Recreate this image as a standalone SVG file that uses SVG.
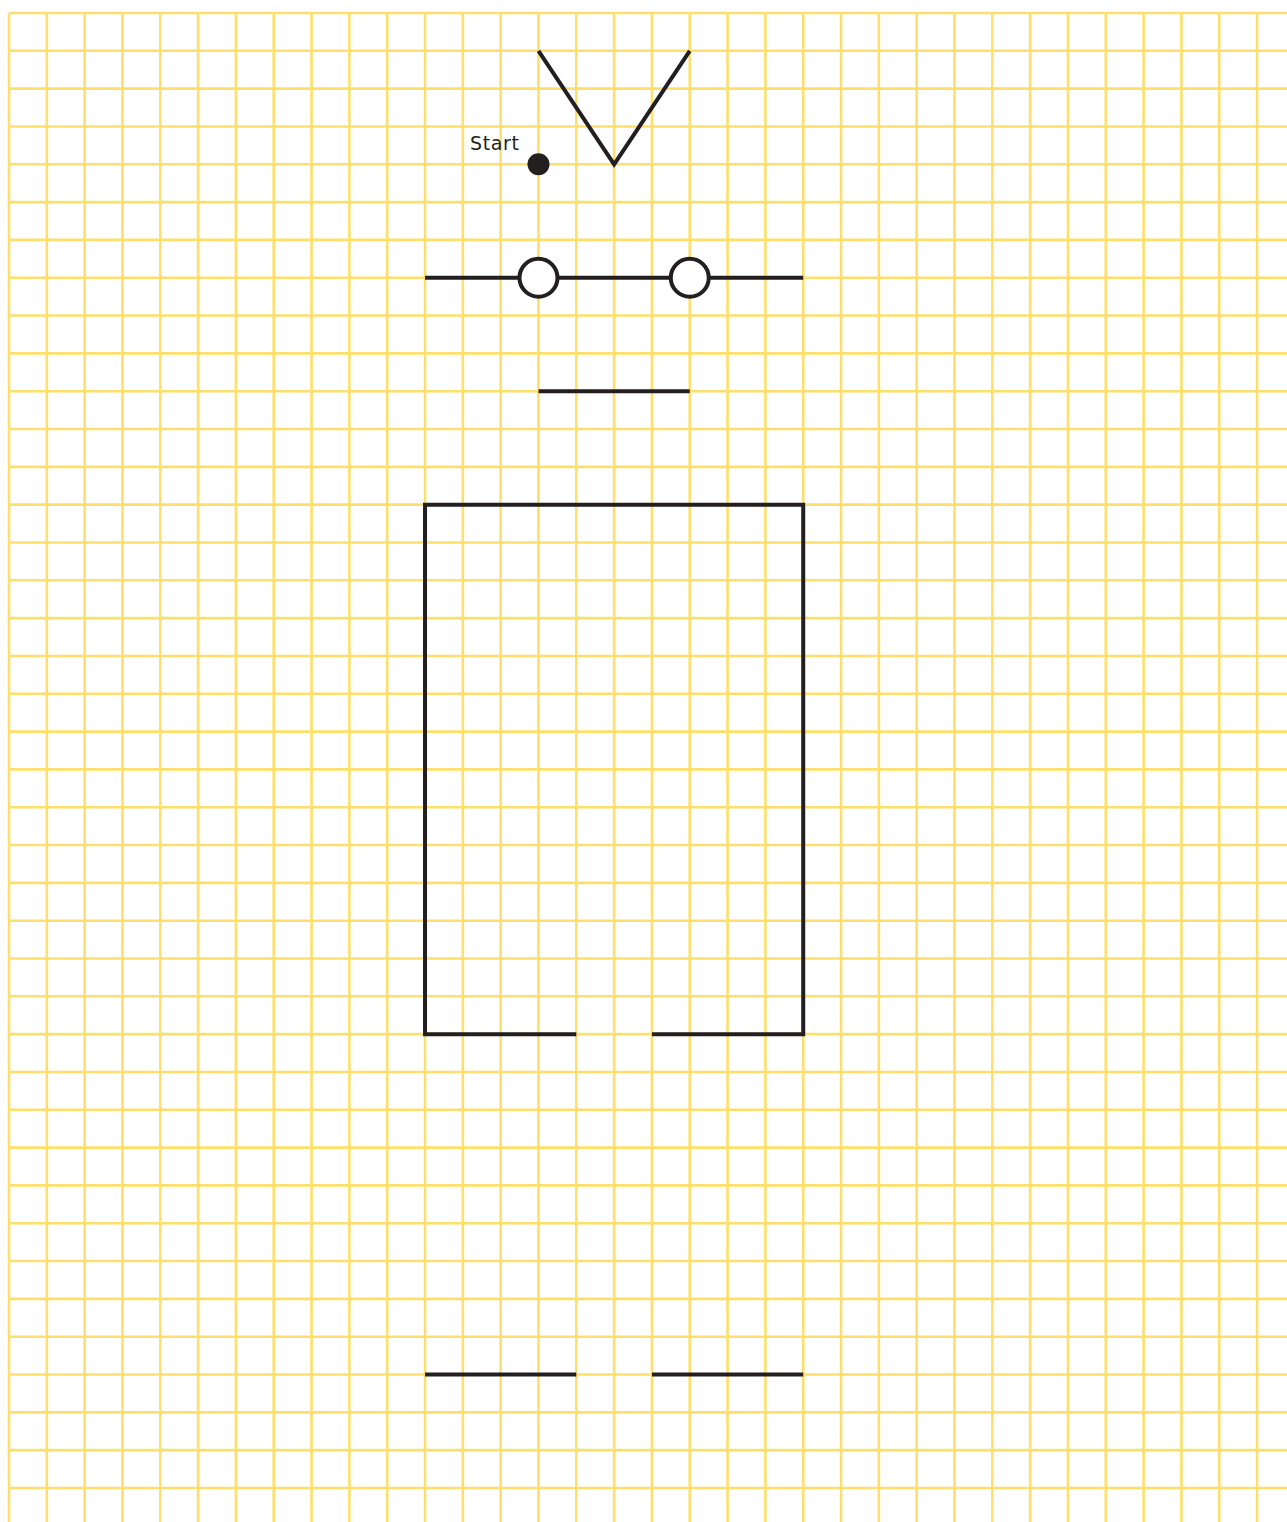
<svg xmlns="http://www.w3.org/2000/svg" width="1287" height="1522" viewBox="0 0 1287 1522">
<defs>
<style>
.g{stroke:#FFDF6B;stroke-width:2.6;fill:none}
.s{stroke:#231F20;stroke-width:4;fill:none;stroke-linecap:butt}
.t{font-family:"DejaVu Sans","Liberation Sans",sans-serif;font-size:19px;fill:#231F20}
</style>
<pattern id="gv" x="9" y="0" width="37.82" height="1522" patternUnits="userSpaceOnUse">
<line x1="0" y1="0" x2="0" y2="1522" class="g"/>
</pattern>
</defs>
<rect width="1287" height="1522" fill="#fff"/>
<g id="grid">
<path class="g" d="M9,13V1522M46.82,13V1522M84.64,13V1522M122.46,13V1522M160.28,13V1522M198.1,13V1522M235.92,13V1522M273.74,13V1522M311.56,13V1522M349.38,13V1522M387.2,13V1522M425.02,13V1522M462.84,13V1522M500.66,13V1522M538.48,13V1522M576.3,13V1522M614.12,13V1522M651.94,13V1522M689.76,13V1522M727.58,13V1522M765.4,13V1522M803.22,13V1522M841.04,13V1522M878.86,13V1522M916.68,13V1522M954.5,13V1522M992.32,13V1522M1030.14,13V1522M1067.96,13V1522M1105.78,13V1522M1143.6,13V1522M1181.42,13V1522M1219.24,13V1522M1257.06,13V1522"/>
<path class="g" d="M9,13H1287M9,50.82H1287M9,88.64H1287M9,126.46H1287M9,164.28H1287M9,202.1H1287M9,239.92H1287M9,277.74H1287M9,315.56H1287M9,353.38H1287M9,391.2H1287M9,429.02H1287M9,466.84H1287M9,504.66H1287M9,542.48H1287M9,580.3H1287M9,618.12H1287M9,655.94H1287M9,693.76H1287M9,731.58H1287M9,769.4H1287M9,807.22H1287M9,845.04H1287M9,882.86H1287M9,920.68H1287M9,958.5H1287M9,996.32H1287M9,1034.14H1287M9,1071.96H1287M9,1109.78H1287M9,1147.6H1287M9,1185.42H1287M9,1223.24H1287M9,1261.06H1287M9,1298.88H1287M9,1336.7H1287M9,1374.52H1287M9,1412.34H1287M9,1450.16H1287M9,1487.98H1287"/>
</g>
<g id="v-shape">
<polyline class="s" points="538.48,50.82 614.12,164.28 689.76,50.82"/>
</g>
<g id="start">
<circle cx="538.48" cy="164.28" r="11" fill="#231F20"/>
<text class="t" x="470" y="150" textLength="49">Start</text>
</g>
<g id="connectors">
<line class="s" x1="425.02" y1="277.74" x2="803.22" y2="277.74"/>
<line class="s" x1="538.48" y1="391.2" x2="689.76" y2="391.2"/>
<line class="s" x1="425.02" y1="1374.52" x2="576.3" y2="1374.52"/>
<line class="s" x1="651.94" y1="1374.52" x2="803.22" y2="1374.52"/>
</g>
<g id="circle-left">
<circle class="s" cx="538.48" cy="277.74" r="19" fill="#fff" style="fill:#fff"/>
</g>
<g id="circle-right">
<circle class="s" cx="689.76" cy="277.74" r="19" style="fill:#fff"/>
</g>
<g id="body">
<path class="s" d="M576.3,1034.14H425.02V504.66H803.22V1034.14H651.94"/>
</g>
</svg>
